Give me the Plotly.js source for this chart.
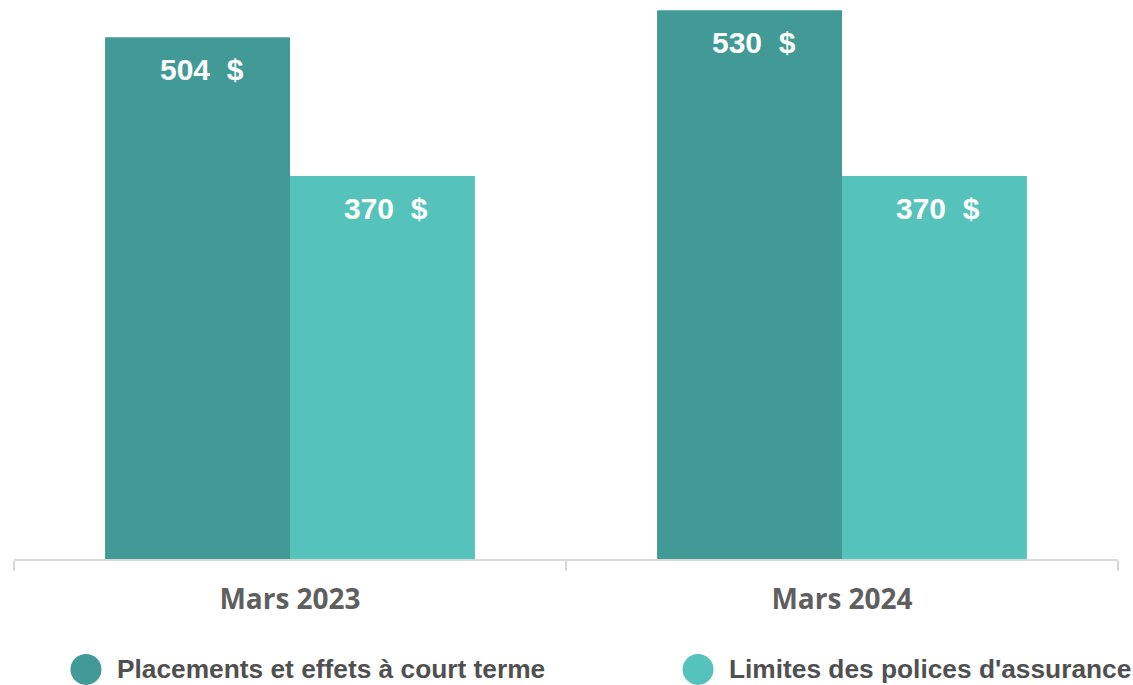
<!DOCTYPE html>
<html>
<head>
<meta charset="utf-8">
<script src="https://cdn.plot.ly/plotly-3.0.1.min.js"></script>
<style>html,body{margin:0;padding:0;background:#fff;}#chart{width:1133px;height:685px;}</style>
</head>
<body>
<div id="chart"></div>
<script>
const categories = ["Mars 2023", "Mars 2024"];
const seriesNames = ["Placements et effets à court terme", "Limites des polices d'assurance"];
const placements = [504, 530];
const limites = [370, 370];
const seriesColors = ["#419A96", "#55C3BC"];
const seriesValues = [placements, limites];

const traces = seriesValues.map((vals, i) => ({
  type: "bar",
  name: seriesNames[i],
  x: categories,
  y: vals,
  marker: { color: seriesColors[i] },
  showlegend: false,
  hoverinfo: "x+y+name"
}));

const annotations = [];
const barOffset = 92.4;
seriesValues.forEach((vals, i) => {
  vals.forEach((v, j) => {
    annotations.push({
      x: categories[j], y: v, xref: "x", yref: "y",
      text: v + " \u00a0$",
      showarrow: false,
      xanchor: "center", yanchor: "top",
      xshift: (i === 0 ? -barOffset : barOffset) + 4,
      yshift: -14,
      font: { family: "Liberation Sans, Arial, sans-serif", size: 30, color: "#ffffff", weight: "bold" }
    });
  });
});

// custom legend (large round markers)
const legendPos = [{ cx: 0.0652, tx: 0.0915 }, { cx: 0.6196, tx: 0.6458 }];
const legendY = -0.1975;
const shapes = [];
seriesNames.forEach((n, i) => {
  shapes.push({
    type: "circle", xref: "paper", yref: "paper",
    xsizemode: "pixel", ysizemode: "pixel",
    xanchor: legendPos[i].cx, yanchor: legendY,
    x0: -15.5, x1: 15.5, y0: -15.5, y1: 15.5,
    fillcolor: seriesColors[i], line: { width: 0 }
  });
  annotations.push({
    x: legendPos[i].tx, y: legendY, xref: "paper", yref: "paper",
    text: n, showarrow: false, xanchor: "left", yanchor: "middle",
    font: { family: "Liberation Sans, Arial, sans-serif", size: 26.3, color: "#505050", weight: "bold" }
  });
});

const layout = {
  width: 1133, height: 685,
  margin: { l: 14, r: 15, t: 0, b: 126 },
  paper_bgcolor: "#ffffff", plot_bgcolor: "#ffffff",
  barmode: "group", bargap: 0.33, bargroupgap: 0,
  showlegend: false,
  xaxis: {
    type: "category",
    showline: true, linecolor: "#d9d9d9", linewidth: 2,
    ticks: "outside", tickson: "boundaries", ticklen: 10, tickcolor: "#d9d9d9", tickwidth: 1.5,
    ticklabelstandoff: 14,
    showgrid: false, zeroline: false,
    tickfont: { family: "Open Sans, sans-serif", size: 28, color: "#5f5f5f", weight: "bold" }
  },
  yaxis: {
    range: [0, 540], visible: false, showgrid: false, zeroline: false, fixedrange: true
  },
  annotations: annotations,
  shapes: shapes
};

Plotly.newPlot("chart", traces, layout, { displayModeBar: false, staticPlot: true });
</script>
</body>
</html>
